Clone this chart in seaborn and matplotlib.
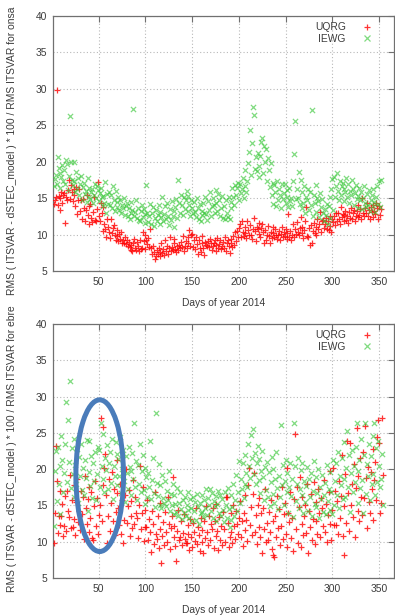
import numpy as np
import pandas as pd
import matplotlib
matplotlib.use("Agg")
import matplotlib.pyplot as plt
from matplotlib.lines import Line2D
from matplotlib.patches import Ellipse
import seaborn as sns

# ---------------------------------------------------------------- data
# one value per day, starting on day 2 of 2014
FIRST_DAY = 2
MODELS = ["UQRG", "IEWG"]
XTICKS = [50, 100, 150, 200, 250, 300, 350]
YTICKS = [5, 10, 15, 20, 25, 30, 35, 40]
XLABEL = "Days of year 2014"
YLABEL_ONSA = "RMS ( ITSVAR - dSTEC_model ) * 100 / RMS ITSVAR for onsa"
YLABEL_EBRE = "RMS ( ITSVAR - dSTEC_model ) * 100 / RMS ITSVAR for ebre"

onsa_uqrg = [
    14.2, 14.8, 15.1, 29.8, 14.0, 15.3, 13.4, 15.0, 15.8, 14.3,
    15.5, 15.7, 11.6, 15.2, 14.7, 16.1, 17.5, 14.9, 16.8, 15.9,
    14.6, 16.2, 15.4, 13.9, 16.5, 12.8, 14.7, 16.3, 13.2, 14.8,
    12.1, 14.9, 13.6, 11.8, 13.4, 15.4, 12.7, 11.5, 13.9, 14.2,
    12.3, 11.7, 13.1, 15.2, 12.0, 11.9, 13.5, 17.2, 12.6, 11.8,
    14.4, 12.9, 10.5, 13.8, 11.4, 10.8, 9.6, 12.2, 11.0, 10.4,
    9.5, 12.1, 10.2, 10.9, 11.3, 9.9, 9.3, 10.6, 9.8, 9.1,
    10.1, 9.4, 10.4, 8.9, 9.2, 8.8, 9.6, 8.7, 9.3, 8.5,
    9.0, 8.3, 7.9, 8.6, 7.7, 8.8, 9.4, 8.1, 7.9, 9.0,
    8.4, 7.8, 9.3, 8.0, 8.2, 10.4, 9.1, 8.0, 10.0, 9.2,
    8.7, 9.5, 8.3, 10.7, 8.1, 7.3, 8.4, 7.6, 6.6, 7.1,
    7.9, 7.4, 8.2, 7.0, 7.6, 8.8, 7.5, 8.0, 7.2, 9.3,
    7.8, 8.5, 7.4, 8.1, 9.6, 7.7, 8.3, 7.9, 8.8, 9.4,
    8.0, 7.6, 8.4, 7.9, 8.6, 8.1, 9.0, 8.3, 9.8, 7.8,
    8.5, 9.1, 8.2, 9.7, 8.8, 10.6, 8.4, 9.9, 10.1, 8.3,
    9.2, 8.0, 9.6, 8.7, 7.4, 9.3, 8.1, 7.6, 8.9, 9.8,
    8.2, 7.2, 9.0, 8.6, 8.5, 9.1, 8.3, 9.4, 8.8, 7.9,
    8.4, 8.9, 9.2, 7.8, 8.6, 9.5, 8.1, 8.7, 9.3, 8.0,
    8.5, 9.0, 8.2, 9.6, 7.7, 8.8, 9.2, 8.4, 7.5, 8.9,
    9.4, 8.3, 9.8, 8.6, 10.3, 9.1, 10.5, 9.7, 10.9, 11.5,
    9.6, 11.9, 10.4, 9.8, 11.1, 10.2, 9.5, 11.8, 10.6, 9.9,
    11.3, 10.0, 9.4, 10.8, 12.3, 10.5, 9.1, 11.0, 10.7, 11.6,
    10.1, 9.7, 10.9, 11.4, 10.3, 8.9, 10.6, 9.3, 10.0, 11.2,
    9.8, 8.8, 10.4, 9.5, 11.1, 10.2, 9.7, 10.8, 10.0, 9.4,
    9.9, 10.5, 9.2, 10.1, 11.0, 9.6, 10.3, 9.8, 10.7, 9.4,
    10.2, 12.8, 9.7, 10.5, 9.3, 10.0, 11.4, 9.6, 10.8, 10.1,
    11.7, 10.4, 9.9, 10.9, 12.4, 10.2, 11.1, 9.5, 10.6, 11.8,
    13.8, 9.8, 9.7, 10.9, 8.6, 11.3, 8.8, 10.5, 11.6, 10.2,
    11.1, 9.9, 12.2, 10.7, 11.5, 13.1, 10.4, 11.8, 12.0, 10.9,
    11.4, 12.3, 10.8, 11.9, 10.6, 12.5, 11.2, 10.4, 12.1, 11.7,
    12.6, 11.3, 12.9, 11.8, 13.0, 12.2, 11.5, 13.8, 12.4, 12.8,
    11.9, 12.7, 13.3, 12.0, 12.5, 11.6, 13.1, 12.3, 13.6, 12.1,
    12.9, 13.4, 11.8, 12.6, 13.2, 12.4, 14.1, 12.7, 13.5, 12.2,
    15.0, 13.0, 12.5, 13.7, 12.9, 14.3, 12.6, 13.4, 12.1, 13.8,
    13.1, 12.4, 14.0, 13.3, 12.8, 14.4, 13.6, 12.2, 13.9, 12.7,
    13.5,
]

onsa_iewg = [
    16.6, 17.6, 18.2, 17.0, 20.6, 19.1, 16.4, 18.4, 17.9, 19.5,
    17.3, 18.8, 16.9, 20.2, 19.7, 16.1, 18.0, 26.3, 19.9, 17.5,
    16.8, 19.9, 17.4, 15.9, 18.6, 16.3, 17.8, 15.4, 16.9, 18.1,
    14.8, 16.5, 17.1, 15.6, 16.0, 14.5, 17.7, 15.2, 16.4, 14.9,
    15.8, 16.2, 14.3, 15.5, 17.0, 15.0, 16.6, 16.1, 14.6, 15.7,
    16.4, 15.1, 13.9, 15.3, 14.4, 17.2, 13.0, 15.6, 14.2, 15.9,
    14.0, 15.4, 13.6, 16.6, 14.7, 13.3, 16.0, 14.5, 13.8, 15.1,
    13.4, 14.8, 12.9, 14.1, 13.6, 15.0, 12.7, 13.9, 14.3, 12.5,
    13.7, 12.2, 14.5, 12.9, 13.4, 27.2, 12.6, 13.1, 14.7, 12.3,
    13.6, 12.0, 11.9, 13.2, 14.1, 12.4, 13.5, 11.6, 12.8, 16.8,
    13.0, 11.7, 12.5, 14.2, 11.4, 12.9, 13.8, 11.2, 12.3, 13.4,
    11.8, 12.7, 14.0, 11.5, 13.1, 12.4, 15.2, 11.9, 12.8, 13.9,
    12.2, 14.4, 12.6, 11.3, 13.5, 12.0, 14.6, 12.5, 13.2, 11.0,
    13.8, 14.9, 12.3, 17.5, 14.3, 13.0, 15.5, 14.1, 12.7, 15.1,
    13.5, 14.7, 16.0, 13.2, 15.3, 14.0, 12.6, 14.8, 13.7, 12.9,
    14.5, 13.1, 12.4, 15.0, 13.6, 12.2, 14.2, 11.8, 13.3, 12.7,
    14.3, 13.0, 15.2, 12.8, 12.0, 14.6, 13.4, 15.8, 12.5, 13.9,
    15.0, 14.1, 12.9, 16.1, 14.4, 13.2, 15.6, 14.8, 12.6, 13.7,
    15.3, 12.3, 13.9, 12.1, 14.7, 13.0, 12.4, 15.1, 12.2, 13.6,
    14.5, 16.4, 15.2, 14.0, 16.8, 15.5, 16.4, 17.1, 14.8, 17.0,
    15.7, 16.2, 17.7, 15.0, 16.6, 18.9, 15.9, 17.4, 19.8, 21.4,
    24.3, 18.2, 22.6, 27.5, 26.4, 19.0, 20.6, 18.7, 21.2, 17.9,
    19.4, 20.8, 22.7, 23.2, 18.4, 22.1, 19.9, 21.7, 17.3, 20.5,
    18.9, 16.5, 19.8, 15.4, 17.1, 14.2, 16.8, 15.9, 13.9, 17.3,
    14.8, 16.2, 15.5, 13.6, 16.9, 14.9, 15.7, 17.0, 14.3, 16.1,
    15.2, 13.8, 16.4, 14.6, 15.0, 13.9, 17.4, 21.0, 25.6, 14.9,
    16.3, 15.0, 18.6, 14.2, 17.5, 13.7, 15.8, 14.4, 16.6, 12.9,
    15.1, 14.7, 16.3, 13.4, 15.9, 14.0, 27.1, 12.6, 15.4, 14.3,
    16.8, 13.1, 15.0, 14.6, 12.4, 15.7, 13.8, 14.9, 12.9, 11.8,
    13.5, 12.7, 14.2, 11.5, 13.9, 12.3, 15.1, 16.2, 17.6, 13.4,
    17.9, 15.2, 16.7, 18.5, 16.0, 14.8, 17.3, 15.5, 16.6, 17.1,
    14.6, 16.3, 15.8, 17.8, 15.1, 16.9, 14.4, 16.0, 15.4, 17.5,
    16.2, 14.1, 15.7, 16.8, 14.9, 15.3, 13.6, 16.4, 14.7, 15.9,
    13.5, 15.0, 16.6, 14.3, 13.8, 15.6, 14.0, 16.1, 13.3, 14.8,
    15.4, 13.9, 16.3, 14.5, 13.1, 15.2, 16.7, 14.2, 17.4, 13.8,
    17.5,
]

ebre_uqrg = [
    9.8, 14.0, 23.2, 18.4, 11.2, 13.6, 17.0, 12.3, 13.6, 15.2,
    10.8, 12.1, 16.3, 11.5, 17.0, 14.2, 13.4, 19.2, 11.9, 15.7,
    12.0, 17.8, 13.1, 10.9, 15.5, 18.6, 12.7, 14.3, 11.6, 17.0,
    13.8, 16.1, 10.4, 19.0, 14.6, 12.5, 15.9, 17.5, 11.3, 13.2,
    16.8, 10.5, 10.2, 14.9, 18.3, 12.2, 16.0, 11.0, 13.7, 15.1,
    27.0, 12.9, 17.8, 25.8, 20.1, 22.1, 16.5, 9.8, 13.6, 18.7,
    11.5, 15.4, 19.6, 12.8, 17.2, 10.9, 14.1, 21.2, 16.7, 14.7,
    12.3, 18.0, 11.1, 15.8, 9.8, 13.0, 16.4, 20.0, 12.6, 14.9,
    17.1, 10.8, 13.5, 15.6, 11.9, 18.5, 12.4, 16.2, 14.0, 13.2,
    10.5, 15.1, 20.5, 11.7, 13.9, 17.6, 10.1, 14.4, 12.0, 12.0,
    15.8, 10.3, 13.1, 11.4, 8.6, 14.2, 12.5, 9.7, 16.9, 11.0,
    10.4, 13.6, 9.2, 11.8, 15.3, 7.1, 10.8, 12.7, 9.5, 14.1,
    11.3, 10.0, 16.2, 12.4, 9.0, 11.9, 13.5, 18.9, 10.6, 12.1,
    9.4, 7.3, 11.5, 14.4, 10.2, 10.6, 12.9, 9.6, 11.2, 13.8,
    10.4, 9.8, 9.8, 12.3, 11.0, 8.9, 13.1, 10.7, 9.3, 12.6,
    11.4, 10.1, 14.6, 9.7, 12.0, 10.9, 8.7, 13.3, 11.6, 9.9,
    8.4, 12.8, 10.5, 14.9, 11.3, 9.5, 13.6, 10.2, 12.4, 11.7,
    14.7, 9.1, 12.9, 10.8, 15.2, 11.5, 8.8, 13.4, 10.3, 12.2,
    9.6, 14.1, 11.8, 10.0, 16.1, 16.1, 12.6, 9.3, 10.6, 13.9,
    11.4, 9.8, 15.0, 12.1, 10.4, 14.3, 12.5, 11.0, 13.2, 15.6,
    10.7, 12.8, 9.4, 14.0, 11.6, 16.4, 13.0, 10.1, 17.8, 20.1,
    12.3, 14.8, 10.9, 16.6, 19.5, 11.4, 13.7, 9.7, 15.1, 12.0,
    16.0, 10.6, 13.9, 8.5, 14.6, 11.8, 17.2, 9.9, 12.6, 10.2,
    14.1, 11.3, 15.7, 9.0, 12.9, 8.2, 7.9, 13.5, 10.7, 16.3,
    11.9, 14.5, 9.6, 12.2, 17.5, 10.4, 13.8, 15.4, 11.1, 20.1,
    9.3, 14.0, 12.7, 16.8, 10.5, 13.3, 8.7, 15.9, 24.9, 11.7,
    17.6, 9.8, 14.8, 18.9, 9.3, 12.4, 16.2, 10.9, 13.6, 15.0,
    11.2, 17.9, 8.4, 14.3, 12.0, 16.6, 10.3, 13.1, 18.2, 9.7,
    15.5, 12.8, 11.0, 17.3, 13.9, 10.6, 16.0, 14.7, 12.2, 18.5,
    11.4, 15.2, 9.9, 13.7, 16.9, 12.5, 19.8, 10.2, 14.4, 20.1,
    12.3, 17.0, 12.3, 15.6, 11.1, 18.4, 13.2, 16.3, 21.9, 10.8,
    14.9, 8.2, 19.3, 12.6, 23.9, 16.7, 11.5, 23.6, 15.1, 18.0,
    13.4, 20.7, 10.6, 17.4, 25.7, 14.2, 19.0, 12.9, 21.5, 16.2,
    13.7, 22.4, 16.0, 25.9, 18.8, 11.9, 20.3, 15.5, 14.0, 19.6,
    17.2, 22.8, 13.0, 18.5, 21.0, 15.8, 24.4, 26.8, 23.6, 14.0,
    15.3, 27.0, 19.2,
]

ebre_iewg = [
    12.1, 19.8, 22.5, 15.6, 23.0, 17.9, 20.4, 13.8, 24.6, 21.3,
    16.8, 19.5, 23.4, 29.3, 18.2, 26.8, 21.0, 32.1, 17.4, 22.9,
    19.3, 16.2, 24.1, 20.6, 18.0, 22.8, 15.3, 21.7, 19.0, 23.5,
    17.1, 20.2, 16.5, 21.2, 18.8, 24.0, 14.2, 23.9, 19.6, 17.7,
    21.8, 16.0, 20.9, 18.4, 22.3, 15.8, 19.3, 23.1, 22.6, 17.6,
    26.4, 20.4, 18.7, 24.8, 16.9, 21.5, 19.9, 23.3, 17.3, 20.8,
    22.4, 18.1, 24.2, 15.9, 20.5, 19.1, 23.7, 22.1, 17.8, 21.4,
    19.0, 24.4, 16.7, 20.0, 22.7, 18.3, 15.5, 21.8, 19.4, 17.2,
    23.0, 20.3, 16.4, 19.8, 22.2, 18.6, 26.3, 17.5, 21.1, 15.7,
    20.6, 18.0, 23.4, 16.8, 19.7, 21.9, 17.1, 15.2, 20.2, 18.9,
    16.2, 19.4, 17.6, 23.9, 15.9, 18.5, 21.5, 16.7, 14.8, 27.8,
    18.1, 16.3, 20.7, 15.1, 17.8, 14.6, 19.2, 16.0, 15.4, 18.3,
    14.9, 17.0, 15.8, 19.8, 14.2, 16.6, 15.0, 17.9, 13.8, 16.4,
    15.2, 14.1, 17.4, 13.5, 15.4, 16.9, 14.5, 13.1, 15.7, 14.0,
    16.2, 13.6, 15.0, 14.4, 16.8, 13.3, 15.9, 14.7, 12.8, 16.1,
    14.2, 15.5, 13.0, 16.6, 14.8, 12.5, 15.3, 13.9, 16.4, 14.1,
    13.4, 15.8, 14.6, 17.3, 13.7, 16.0, 15.1, 17.3, 14.3, 16.7,
    13.2, 15.6, 14.9, 16.3, 12.9, 15.2, 17.0, 14.0, 16.5, 13.6,
    15.9, 14.4, 12.7, 16.8, 15.0, 13.3, 17.4, 14.5, 12.0, 13.0,
    16.5, 14.8, 18.0, 13.5, 15.7, 19.2, 14.3, 16.9, 21.1, 15.4,
    18.6, 17.2, 20.8, 16.0, 18.0, 22.0, 19.5, 17.5, 23.5, 20.4,
    18.8, 24.7, 21.6, 25.6, 19.3, 22.2, 17.9, 20.9, 23.2, 18.5,
    21.4, 16.7, 19.8, 22.5, 18.9, 15.8, 20.3, 17.1, 21.0, 16.2,
    19.6, 14.9, 18.2, 21.7, 16.6, 20.0, 15.3, 18.7, 22.3, 17.4,
    14.5, 19.0, 16.1, 26.1, 17.8, 20.6, 15.0, 18.3, 21.2, 16.9,
    19.5, 14.0, 17.5, 20.9, 16.3, 18.6, 13.4, 26.3, 20.5, 15.6,
    18.0, 21.6, 14.7, 17.2, 19.9, 16.4, 20.8, 13.9, 18.4, 15.5,
    17.7, 20.3, 14.3, 18.6, 16.2, 19.4, 13.6, 17.0, 21.1, 15.2,
    18.9, 14.8, 16.7, 20.0, 13.2, 17.5, 15.9, 19.2, 14.1, 16.4,
    18.1, 13.8, 20.6, 15.6, 17.3, 14.4, 19.6, 16.8, 13.8, 21.3,
    15.1, 18.4, 20.8, 16.5, 22.3, 14.7, 19.0, 17.8, 21.5, 15.9,
    18.7, 23.7, 16.2, 20.1, 25.3, 17.6, 21.9, 14.1, 19.4, 22.6,
    16.9, 20.4, 18.2, 23.0, 26.4, 15.3, 19.8, 21.2, 17.4, 24.1,
    18.5, 13.9, 22.0, 26.4, 16.6, 20.7, 19.1, 23.4, 15.8, 21.8,
    17.9, 24.5, 19.3, 26.4, 16.4, 22.9, 18.2, 23.9, 20.5, 17.5,
    18.7, 22.1, 15.0,
]

# highlighted cluster in the ebre panel: centre (day, value), width, height
HIGHLIGHT = (51, 19.1, 51, 20.9)


def station_frame(uqrg, iewg):
    parts = []
    for name, vals in zip(MODELS, (uqrg, iewg)):
        parts.append(pd.DataFrame({
            "day": FIRST_DAY + np.arange(len(vals)),
            "value": vals,
            "model": name,
        }))
    return pd.concat(parts, ignore_index=True)


df_onsa = station_frame(onsa_uqrg, onsa_iewg)
df_ebre = station_frame(ebre_uqrg, ebre_iewg)

# ---------------------------------------------------------------- style
sns.set_theme(style="white")
plt.rcParams["font.family"] = ["Liberation Sans", "DejaVu Sans"]
TEXT = "#3c3c3c"
SPINE = "#707070"
GRID = "#b8b8b8"
RED = "#ff0000"
GREEN = "#3cc83c"
FS = 7.4

palette = {"UQRG": RED, "IEWG": GREEN}
markers = {"UQRG": "+", "IEWG": "x"}
alphas = {"UQRG": 0.8, "IEWG": 0.65}

fig = plt.figure(figsize=(3.95, 6.15), dpi=100)
ax_top = fig.add_axes([53 / 395, 1 - 271 / 615, 341 / 395, 255 / 615])
ax_bot = fig.add_axes([53 / 395, 1 - 578 / 615, 341 / 395, 254 / 615])


def draw_panel(ax, df, ylabel, label_bottom):
    for name in MODELS:
        sub = df[df["model"] == name]
        sns.scatterplot(data=sub, x="day", y="value", marker=markers[name],
                        color=palette[name], s=14, linewidth=0.9,
                        alpha=alphas[name], ax=ax, legend=False, zorder=3)
    ax.set_xlim(1, 366)
    ax.set_ylim(5, 40)
    ax.set_xticks(XTICKS)
    ax.set_yticks(YTICKS)
    ax.grid(True, color=GRID, linestyle=(0, (1, 2)), linewidth=0.8)
    ax.set_axisbelow(True)
    ax.tick_params(direction="in", length=4, width=0.8, colors=SPINE,
                   labelcolor=TEXT, labelsize=FS, top=True, right=True,
                   pad=4)
    for sp in ax.spines.values():
        sp.set_color(SPINE)
        sp.set_linewidth(0.9)
    ax.set_xlabel(XLABEL, fontsize=FS, color=TEXT, labelpad=8)
    ax.set_ylabel("")
    fig.text(12.5 / 395, label_bottom, ylabel, rotation=90, ha="center",
             va="bottom", fontsize=FS, color=TEXT)
    handles = [Line2D([], [], linestyle="none", marker=markers[m],
                      color=palette[m], markersize=4.5, markeredgewidth=0.9,
                      alpha=alphas[m])
               for m in MODELS]
    leg = ax.legend(handles, MODELS, loc="upper right", frameon=False,
                    markerfirst=False, fontsize=FS, labelspacing=0.15,
                    handletextpad=1.6, handlelength=1.0,
                    bbox_to_anchor=(0.955, 1.0), borderaxespad=0.2)
    for t in leg.get_texts():
        t.set_color(TEXT)


draw_panel(ax_top, df_onsa, YLABEL_ONSA, 1 - 295 / 615)
draw_panel(ax_bot, df_ebre, YLABEL_EBRE, 1 - 592 / 615)

cx, cy, w, h = HIGHLIGHT
ax_bot.add_patch(Ellipse((cx, cy), w, h, fill=False, edgecolor="#4a7cba",
                         linewidth=3.6, zorder=5))

fig.savefig("out.png", dpi=100)
